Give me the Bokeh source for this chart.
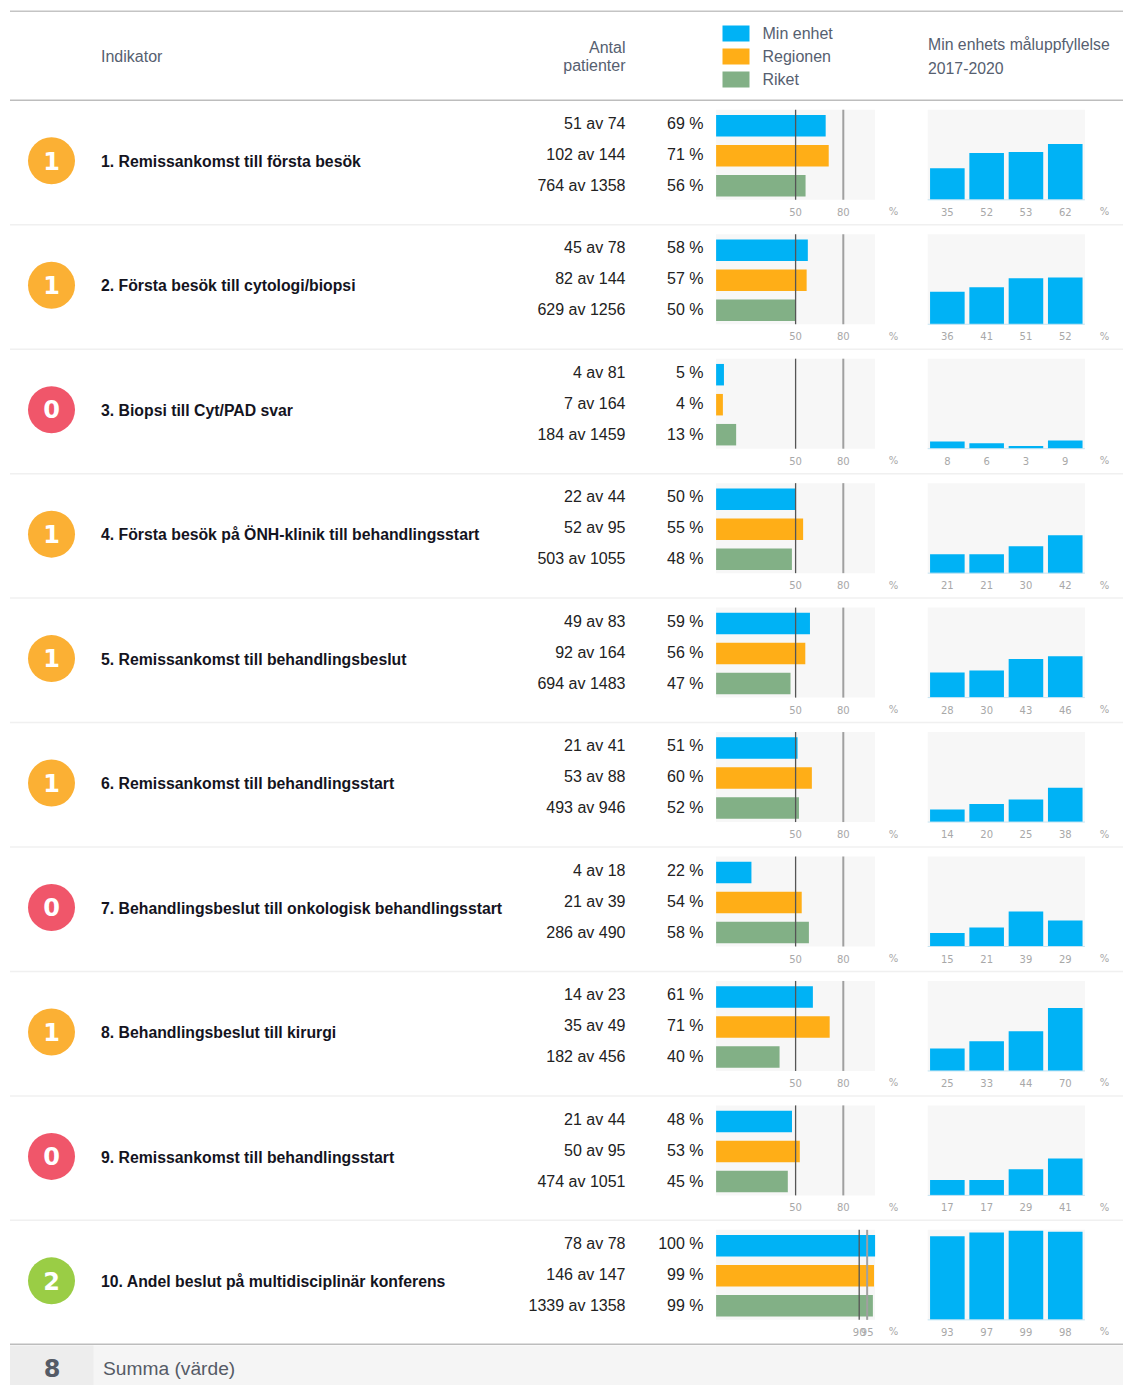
from bokeh.plotting import figure
from bokeh.models import Range1d
from bokeh.core.properties import value
from bokeh.embed import file_html
from bokeh.resources import INLINE

indicators = ["1. Remissankomst till första besök", "2. Första besök till cytologi/biopsi",
              "3. Biopsi till Cyt/PAD svar", "4. Första besök på ÖNH-klinik till behandlingsstart",
              "5. Remissankomst till behandlingsbeslut", "6. Remissankomst till behandlingsstart",
              "7. Behandlingsbeslut till onkologisk behandlingsstart", "8. Behandlingsbeslut till kirurgi",
              "9. Remissankomst till behandlingsstart", "10. Andel beslut på multidisciplinär konferens"]
scores = [1, 1, 0, 1, 1, 1, 0, 1, 0, 2]
unit_num = [51, 45, 4, 22, 49, 21, 4, 14, 21, 78]
unit_den = [74, 78, 81, 44, 83, 41, 18, 23, 44, 78]
unit_pct = [69, 58, 5, 50, 59, 51, 22, 61, 48, 100]
region_num = [102, 82, 7, 52, 92, 53, 21, 35, 50, 146]
region_den = [144, 144, 164, 95, 164, 88, 39, 49, 95, 147]
region_pct = [71, 57, 4, 55, 56, 60, 54, 71, 53, 99]
nation_num = [764, 629, 184, 503, 694, 493, 286, 182, 474, 1339]
nation_den = [1358, 1256, 1459, 1055, 1483, 946, 490, 456, 1051, 1358]
nation_pct = [56, 50, 13, 48, 47, 52, 58, 40, 45, 99]
goal_low = [50, 50, 50, 50, 50, 50, 50, 50, 50, 90]
goal_high = [80, 80, 80, 80, 80, 80, 80, 80, 80, 95]
years = [2017, 2018, 2019, 2020]
trend = [[35, 52, 53, 62], [36, 41, 51, 52], [8, 6, 3, 9], [21, 21, 30, 42], [28, 30, 43, 46],
         [14, 20, 25, 38], [15, 21, 39, 29], [25, 33, 44, 70], [17, 17, 29, 41], [93, 97, 99, 98]]
legend_labels = ["Min enhet", "Regionen", "Riket"]
series_colors = ["#00B2F5", "#FFAE17", "#82B086"]
score_colors = {0: "#F0566A", 1: "#FBB034", 2: "#9ACD45"}

W, H = 1123, 1385
FONT = value("Liberation Sans")
TICK_FONT = value("DejaVu Sans")
ROW_TOP, ROW_PITCH = 109.3, 124.45
BAR_X0, BAR_PX = 715.6, 1.59
TR_X0, TR_PITCH, TR_PX = 927.2, 39.3, 0.9

p = figure(width=W, height=H, x_range=Range1d(0, W), y_range=Range1d(H, 0),
           toolbar_location=None, output_backend="svg", min_border=0,
           x_axis_type=None, y_axis_type=None, outline_line_color=None,
           background_fill_color="white", border_fill_color="white")
p.xgrid.visible = False
p.ygrid.visible = False

p.extra_x_ranges["pct"] = Range1d((0 - BAR_X0) / BAR_PX, (W - BAR_X0) / BAR_PX)
p.extra_x_ranges["year"] = Range1d(2016.5 + (0 - TR_X0) / TR_PITCH, 2016.5 + (W - TR_X0) / TR_PITCH)


def txt(x, y, s, size="16px", color="#222222", align="left", style="normal", font=FONT, **kw):
    p.text([x], [y], text=[s], text_font=font, text_font_size=size, text_color=color,
           text_align=align, text_baseline="middle", text_font_style=style, **kw)


# frame: summary strip and rules
p.quad(left=[9.5], right=[1123], top=[1345], bottom=[1385], fill_color="#F5F5F5", line_color=None)
p.quad(left=[9.5], right=[93], top=[1345], bottom=[1385], fill_color="#EDEDED", line_color=None)
p.segment([9.5, 9.5, 9.5], [10.7, 99.7, 1343.7], [1123, 1123, 1123], [10.7, 99.7, 1343.7],
          line_color=["#C4C4C4", "#BDBDBD", "#BDBDBD"], line_width=1.5)

# header
txt(100.5, 56, "Indikator", "16px", "#566070")
txt(625, 47, "Antal", "16px", "#566070", "right")
txt(625, 65, "patienter", "16px", "#566070", "right")
for i, (lab, col) in enumerate(zip(legend_labels, series_colors)):
    yc = 33 + 23 * i
    p.quad(left=[722], right=[749], top=[yc - 8], bottom=[yc + 8], fill_color=col, line_color=None)
    txt(762, yc, lab, "16px", "#566070")
txt(927.5, 44, "Min enhets måluppfyllelse", "15.8px", "#566070")
txt(927.5, 67, "2017-2020", "15.8px", "#566070")

# rows
for r in range(10):
    top = ROW_TOP + r * ROW_PITCH
    base = top + 90
    if r > 0:
        p.segment([9.5], [top - 9.5], [1123], [top - 9.5], line_color="#F0F0F0", line_width=1.5)

    yname = f"trend{r}"
    p.extra_y_ranges[yname] = Range1d((base - H) / TR_PX, base / TR_PX)

    p.circle([51], [top + 51], radius=23.5, fill_color=score_colors[scores[r]], line_color=None)
    txt(51, top + 50.7, str(scores[r]), "24px", "white", "center", "bold", value("DejaVu Sans"))
    txt(100.5, top + 51.7, indicators[r], "15.8px", "#14141E", style="bold")

    # bar panel
    p.quad(left=[0], right=[100], top=[top], bottom=[base], fill_color="#F7F7F7", line_color=None,
           x_range_name="pct")
    rows = [(unit_num, unit_den, unit_pct), (region_num, region_den, region_pct),
            (nation_num, nation_den, nation_pct)]
    for k, (nn, dd, pc) in enumerate(rows):
        yc = top + 16 + 30 * k
        yt = top + 13.7 + 31 * k
        p.hbar(y=[yc], left=[0], right=[100 * nn[r] / dd[r]], height=21.5,
               fill_color=series_colors[k], line_color=None, x_range_name="pct")
        txt(625, yt, f"{nn[r]} av {dd[r]}", "16px", "#222222", "right")
        txt(703, yt, f"{pc[r]} %", "16px", "#222222", "right")
    p.segment([goal_low[r]], [top], [goal_low[r]], [base], line_color="#555555", line_width=1.3,
              x_range_name="pct")
    p.segment([goal_high[r]], [top], [goal_high[r]], [base], line_color="#A0A0A0", line_width=2,
              x_range_name="pct")
    for g in (goal_low[r], goal_high[r]):
        p.text([g], [base + 12], text=[str(g)], text_font=TICK_FONT, text_font_size="10px", text_color="#A8A8A8",
               text_align="center", text_baseline="middle", x_range_name="pct")
    txt(893, base + 12, "%", "10px", "#A8A8A8", "center", font=TICK_FONT)

    # trend panel
    p.quad(left=[2016.5], right=[2020.5], top=[0], bottom=[100], fill_color="#F7F7F7", line_color=None,
           x_range_name="year", y_range_name=yname)
    p.vbar(x=years, bottom=0, top=trend[r], width=0.88, fill_color=series_colors[0], line_color=None,
           x_range_name="year", y_range_name=yname)
    p.segment([2016.5], [0], [2020.5], [0], line_color="#C5E4F2", line_width=1,
              x_range_name="year", y_range_name=yname)
    p.text(years, [base + 12] * 4, text=[str(v) for v in trend[r]], text_font=TICK_FONT, text_font_size="10px",
           text_color="#A8A8A8", text_align="center", text_baseline="middle", x_range_name="year")
    txt(1104, base + 12, "%", "10px", "#A8A8A8", "center", font=TICK_FONT)

# summary
txt(51.5, 1367, "8", "24px", "#555B66", "center", "bold", value("DejaVu Sans"))
txt(102.5, 1368, "Summa (värde)", "19.2px", "#555B66")

open("out.html", "w").write(file_html(p, INLINE))
